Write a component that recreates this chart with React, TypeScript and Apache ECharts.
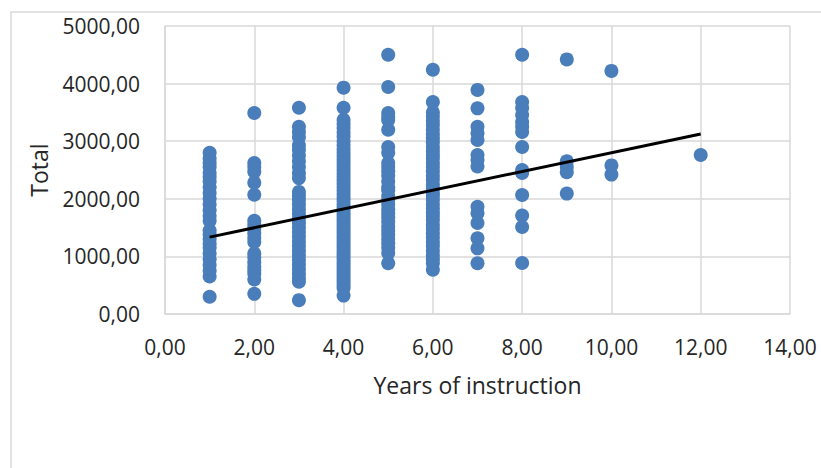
import React, { useEffect, useRef } from "react";
import * as echarts from "echarts";

const xTicks = [0, 2, 4, 6, 8, 10, 12, 14];
const yTicks = [0, 1000, 2000, 3000, 4000, 5000];

const years1 = [2800, 2700, 2620, 2550, 2450, 2380, 2300, 2200, 2100, 2000, 1900, 1800, 1700, 1620, 1450, 1380, 1300, 1220, 1150, 1050, 950, 850, 750, 650, 300];
const years2 = [3490, 2620, 2550, 2470, 2280, 2070, 1620, 1550, 1480, 1400, 1320, 1250, 1050, 980, 900, 820, 760, 700, 600, 350];
const years3 = [3580, 3250, 3160, 3070, 2930, 2850, 2750, 2650, 2550, 2450, 2360, 2120, 2050, 1980, 1900, 1820, 1740, 1660, 1580, 1500, 1420, 1340, 1260, 1180, 1100, 1020, 940, 860, 780, 700, 620, 560, 240];
const years4 = [3930, 3580, 3370, 3300, 3230, 3150, 3080, 3000, 2930, 2860, 2800, 2740, 2680, 2620, 2560, 2500, 2440, 2380, 2320, 2260, 2200, 2140, 2080, 2020, 1960, 1900, 1850, 1800, 1750, 1700, 1650, 1600, 1550, 1500, 1450, 1400, 1350, 1300, 1250, 1200, 1150, 1100, 1050, 1000, 950, 900, 850, 800, 750, 700, 650, 600, 550, 500, 450, 320];
const years5 = [4500, 3940, 3490, 3420, 3370, 3200, 2900, 2800, 2620, 2550, 2480, 2400, 2300, 2200, 2150, 2050, 1980, 1900, 1820, 1750, 1680, 1600, 1520, 1450, 1380, 1300, 1230, 1150, 1060, 880];
const years6 = [4240, 3680, 3500, 3430, 3350, 3280, 3200, 3120, 3050, 2980, 2900, 2830, 2760, 2700, 2620, 2550, 2480, 2400, 2330, 2250, 2180, 2100, 2050, 1980, 1900, 1830, 1760, 1700, 1630, 1550, 1480, 1400, 1330, 1250, 1180, 1100, 1020, 950, 880, 770];
const years7 = [3890, 3570, 3250, 3140, 3020, 2760, 2675, 2560, 1860, 1750, 1580, 1315, 1140, 880];
const years8 = [4500, 3680, 3575, 3455, 3335, 3250, 3160, 2900, 2500, 2450, 2065, 1710, 1510, 885];
const years9 = [4420, 2650, 2550, 2460, 2090];
const years10 = [4220, 2580, 2420];
const years12 = [2760];

const columns: [number, number[]][] = [
  [1, years1], [2, years2], [3, years3], [4, years4], [5, years5], [6, years6],
  [7, years7], [8, years8], [9, years9], [10, years10], [12, years12],
];

const trendline = [[1, 1335], [12, 3125]];

const fmt = (v: number) => v.toFixed(2).replace(".", ",");

export default function App() {
  const ref = useRef<HTMLDivElement>(null);
  useEffect(() => {
    if (!ref.current) return;
    const chart = echarts.init(ref.current, null, { renderer: "svg" });
    const points: number[][] = [];
    columns.forEach(([x, vals]) => vals.forEach((v) => points.push([x, v])));
    const font = "'Open Sans', sans-serif";
    const gridLine = { show: true, lineStyle: { color: "#d9d9d9", width: 1.5 } };
    chart.setOption({
      animation: false,
      backgroundColor: "#ffffff",
      graphic: [
        {
          type: "rect",
          shape: { x: 11, y: 12, width: 1000, height: 1000 },
          style: { fill: "transparent", stroke: "#d9d9d9", lineWidth: 1.5 },
          silent: true,
        },
      ],
      grid: { left: 165, right: 31, top: 26, bottom: 154 },
      xAxis: {
        type: "value",
        min: xTicks[0],
        max: xTicks[xTicks.length - 1],
        interval: 2,
        name: "Years of instruction",
        nameLocation: "middle",
        nameGap: 59,
        nameTextStyle: { fontFamily: font, fontSize: 23, color: "#262626" },
        axisLine: { show: true, lineStyle: { color: "#d9d9d9", width: 1.5 } },
        axisTick: { show: false },
        axisLabel: { formatter: fmt, fontFamily: font, fontSize: 21, color: "#262626", margin: 22 },
        splitLine: gridLine,
      },
      yAxis: {
        type: "value",
        min: yTicks[0],
        max: yTicks[yTicks.length - 1],
        interval: 1000,
        name: "Total",
        nameLocation: "middle",
        nameGap: 115,
        nameRotate: 90,
        nameTextStyle: { fontFamily: font, fontSize: 23, color: "#262626" },
        axisLine: { show: true, lineStyle: { color: "#d9d9d9", width: 1.5 } },
        axisTick: { show: false },
        axisLabel: { formatter: fmt, fontFamily: font, fontSize: 21, color: "#262626", margin: 25 },
        splitLine: gridLine,
      },
      series: [
        {
          type: "scatter",
          data: points,
          symbolSize: 14,
          itemStyle: { color: "#4a7ebb", opacity: 1 },
          z: 2,
        },
        {
          type: "line",
          data: trendline,
          showSymbol: false,
          symbol: "none",
          lineStyle: { color: "#000000", width: 3 },
          z: 3,
        },
      ],
    });
    return () => chart.dispose();
  }, []);
  return (
    <div
      ref={ref}
      style={{ position: "absolute", left: 0, top: 0, width: 821, height: 468 }}
    />
  );
}
